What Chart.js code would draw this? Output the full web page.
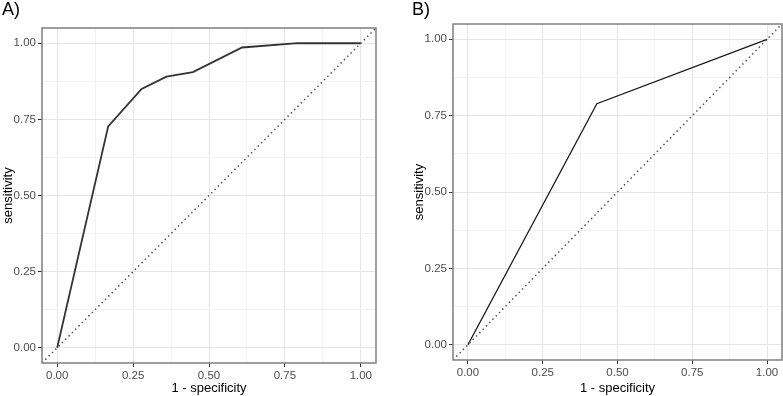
<!DOCTYPE html>
<html>
<head>
<meta charset="utf-8">
<script src="https://cdn.jsdelivr.net/npm/chart.js@4"></script>
<style>
  body { margin:0; background:#fff; font-family:"Liberation Sans", Arial, sans-serif; }
  #wrap { position:relative; width:783px; height:396px; }
  .panel { position:absolute; top:0; height:396px; }
  .tag { position:absolute; top:-1px; font-size:18px; color:#000; }
</style>
</head>
<body>
<div id="wrap">
  <div class="panel" style="left:0;width:390px;"><canvas id="chartA" width="390" height="396"></canvas></div>
  <div class="panel" style="left:390px;width:393px;"><canvas id="chartB" width="393" height="396"></canvas></div>
  <div class="tag" style="left:2px;">A)</div>
  <div class="tag" style="left:412px;">B)</div>
</div>
<script>
// ROC curves
const rocAX = [0, 0.168, 0.278, 0.360, 0.447, 0.609, 0.792, 1];
const rocAY = [0, 0.727, 0.850, 0.890, 0.905, 0.986, 1, 1];
const rocBX = [0, 0.431, 1];
const rocBY = [0, 0.789, 1];
const majorTicks = [0, 0.25, 0.5, 0.75, 1];
const minorTicks = [0.125, 0.375, 0.625, 0.875];
const chanceLine = [-0.05, 1.05];
const xTitle = '1 - specificity';
const yTitle = 'sensitivity';

const frame = {
  id: 'frame',
  afterDraw(chart) {
    const a = chart.chartArea, c = chart.ctx;
    c.save();
    c.strokeStyle = '#7f7f7f';
    c.lineWidth = 1.5;
    c.strokeRect(a.left, a.top, a.right - a.left, a.bottom - a.top);
    c.restore();
  }
};

function isMajor(v) { return majorTicks.some(t => Math.abs(t - v) < 1e-6); }

function axis(title, size, titlePad) {
  return {
    type: 'linear', min: -0.05, max: 1.05,
    afterBuildTicks(s) {
      s.ticks = majorTicks.concat(minorTicks).sort((a, b) => a - b).map(v => ({ value: v }));
    },
    afterFit(s) { if (s.isHorizontal()) s.height = size; else s.width = size; },
    border: { display: false },
    grid: {
      color: ctx => isMajor(ctx.tick.value) ? '#e6e6e6' : '#f3f3f3',
      lineWidth: 1,
      tickColor: ctx => isMajor(ctx.tick.value) ? '#333' : 'rgba(0,0,0,0)',
      tickLength: 4
    },
    ticks: {
      autoSkip: false, maxRotation: 0, padding: 2,
      color: '#4d4d4d',
      font: { family: 'Liberation Sans', size: 11.5 },
      callback: v => isMajor(v) ? v.toFixed(2) : ''
    },
    title: {
      display: true, text: title, color: '#000',
      font: { family: 'Liberation Sans', size: 13 },
      padding: titlePad
    }
  };
}

function makePanel(id, xs, ys, lineColor, lineWidth, geo) {
  new Chart(document.getElementById(id), {
    type: 'scatter',
    data: {
      datasets: [
        {
          data: chanceLine.map(v => ({ x: v, y: v })),
          showLine: true, borderColor: '#555', borderWidth: 1.5,
          borderDash: [1.5, 3.2], pointRadius: 0
        },
        {
          data: xs.map((x, i) => ({ x, y: ys[i] })),
          showLine: true, borderColor: lineColor, borderWidth: lineWidth,
          pointRadius: 0
        }
      ]
    },
    options: {
      responsive: false, animation: false,
      layout: { padding: geo.padding },
      plugins: { legend: { display: false }, tooltip: { enabled: false } },
      scales: {
        x: axis(xTitle, geo.xh, { top: 1, bottom: 0 }),
        y: axis(yTitle, geo.yw, { top: 0, bottom: 0 })
      }
    },
    plugins: [frame]
  });
}

makePanel('chartA', rocAX, rocAY, '#333', 1.8,
  { padding: { left: 1, top: 28, right: 14, bottom: 0 }, xh: 33, yw: 41 });
makePanel('chartB', rocBX, rocBY, '#1a1a1a', 1.3,
  { padding: { left: 22, top: 24, right: 1, bottom: 0 }, xh: 36, yw: 41 });
</script>
</body>
</html>
